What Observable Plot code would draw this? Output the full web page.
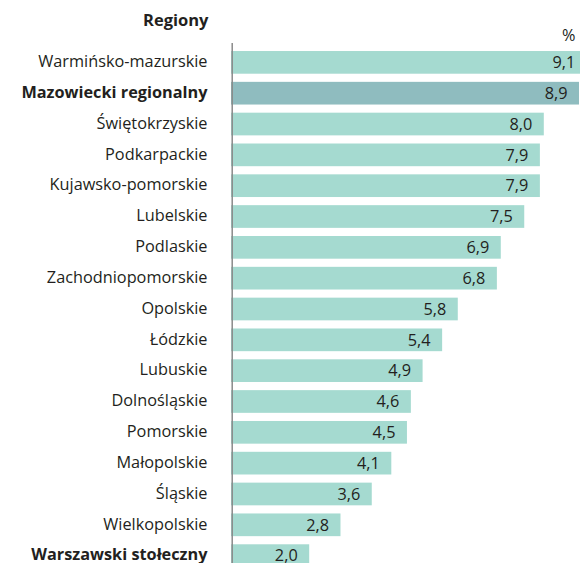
<!DOCTYPE html>
<html>
<head>
<meta charset="utf-8">
<script src="https://cdn.jsdelivr.net/npm/d3@7"></script>
<script src="https://cdn.jsdelivr.net/npm/@observablehq/plot@0.6"></script>
<style>
  html, body { margin: 0; padding: 0; background: #fff; overflow: hidden; }
  #chart svg { display: block; }
</style>
</head>
<body>
<div id="chart"></div>
<script>
const regions = [
  "Warmińsko-mazurskie", "Mazowiecki regionalny", "Świętokrzyskie", "Podkarpackie",
  "Kujawsko-pomorskie", "Lubelskie", "Podlaskie", "Zachodniopomorskie", "Opolskie",
  "Łódzkie", "Lubuskie", "Dolnośląskie", "Pomorskie", "Małopolskie", "Śląskie",
  "Wielkopolskie", "Warszawski stołeczny"
];
const values = [9.1, 8.9, 8.0, 7.9, 7.9, 7.5, 6.9, 6.8, 5.8, 5.4, 4.9, 4.6, 4.5, 4.1, 3.6, 2.8, 2.0];
const boldRegions = ["Mazowiecki regionalny", "Warszawski stołeczny"];
const highlighted = ["Mazowiecki regionalny"];
const axisTitle = "Regiony";
const unitLabel = "%";

const data = regions.map((r, i) => ({region: r, value: values[i]}));
const fmt = v => d3.format(".1f")(v).replace(".", ",");
const font = "'Open Sans', sans-serif";
const fs = 16.3;

const chart = Plot.plot({
  width: 580,
  height: 575,
  marginLeft: 231,
  marginRight: 0,
  marginTop: 43,
  marginBottom: 0,
  style: {fontFamily: font, fontSize: fs + "px", color: "#231f20", background: "#fff"},
  x: {domain: [0, 8.926], axis: null},
  y: {domain: regions, paddingInner: 0.264, paddingOuter: 0.26, round: false, axis: null},
  marks: [
    Plot.barX(data, {
      y: "region", x: "value",
      fill: d => highlighted.includes(d.region) ? "#8fbcbf" : "#a5dad0",
      clip: true
    }),
    Plot.ruleX([0], {stroke: "#8a8a8a", strokeWidth: 1.5, dx: 0.7}),
    Plot.axisY(regions.filter(r => !boldRegions.includes(r)), {
      tickSize: 0, tickPadding: 24, fontSize: fs, fill: "#231f20", label: null, dy: -1
    }),
    Plot.axisY(boldRegions, {
      tickSize: 0, tickPadding: 24, fontSize: fs, fontWeight: "bold", fill: "#231f20", label: null, dy: -1
    }),
    Plot.text(data, {
      y: "region", x: "value", text: d => fmt(d.value),
      textAnchor: "end", dx: -12, fontSize: fs, fill: "#231f20"
    }),
    Plot.text([axisTitle], {
      frameAnchor: "top-left", lineAnchor: "middle", dx: -23, dy: -23, textAnchor: "end",
      fontWeight: "bold", fontSize: 16.5, fill: "#231f20"
    }),
    Plot.text([unitLabel], {
      frameAnchor: "top-right", lineAnchor: "middle", dx: -5, dy: -8, textAnchor: "end",
      fontSize: fs, fill: "#231f20"
    })
  ]
});
document.getElementById("chart").append(chart);
</script>
</body>
</html>
